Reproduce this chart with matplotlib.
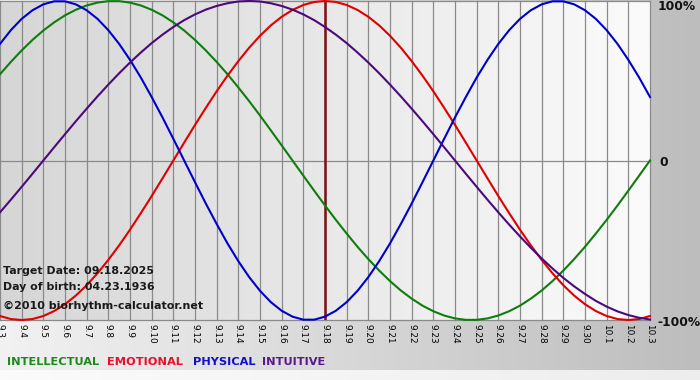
import matplotlib
matplotlib.use("Agg")
import matplotlib.pyplot as plt
import numpy as np

# dates on the x axis, 9.3 -> 10.3
dates = ["9.%d" % d for d in range(3, 31)] + ["10.1", "10.2", "10.3"]

# values every half day, 9.3 -> 10.3 (-1 .. 1)
physical = [0.731, 0.817, 0.888, 0.942, 0.979, 0.998, 0.998, 0.979, 0.942, 0.888,
            0.817, 0.731, 0.631, 0.520, 0.398, 0.270, 0.136, 0.000, -0.136, -0.270,
            -0.398, -0.520, -0.631, -0.731, -0.817, -0.888, -0.942, -0.979, -0.998, -0.998,
            -0.979, -0.942, -0.888, -0.817, -0.731, -0.631, -0.520, -0.398, -0.270, -0.136,
            0.000, 0.136, 0.270, 0.398, 0.520, 0.631, 0.731, 0.817, 0.888, 0.942,
            0.979, 0.998, 0.998, 0.979, 0.942, 0.888, 0.817, 0.731, 0.631, 0.520, 0.398]
emotional = [-0.975, -0.994, -1.000, -0.994, -0.975, -0.944, -0.901, -0.847, -0.782, -0.707,
             -0.623, -0.532, -0.434, -0.330, -0.223, -0.112, 0.000, 0.112, 0.223, 0.330,
             0.434, 0.532, 0.623, 0.707, 0.782, 0.847, 0.901, 0.944, 0.975, 0.994,
             1.000, 0.994, 0.975, 0.944, 0.901, 0.847, 0.782, 0.707, 0.623, 0.532,
             0.434, 0.330, 0.223, 0.112, 0.000, -0.112, -0.223, -0.330, -0.434, -0.532,
             -0.623, -0.707, -0.782, -0.847, -0.901, -0.944, -0.975, -0.994, -1.000, -0.994, -0.975]
intellectual = [0.541, 0.618, 0.690, 0.756, 0.815, 0.866, 0.910, 0.945, 0.972, 0.990,
                0.999, 0.999, 0.990, 0.972, 0.945, 0.910, 0.866, 0.815, 0.756, 0.690,
                0.618, 0.541, 0.458, 0.372, 0.282, 0.189, 0.095, 0.000, -0.095, -0.189,
                -0.282, -0.372, -0.458, -0.541, -0.618, -0.690, -0.756, -0.815, -0.866, -0.910,
                -0.945, -0.972, -0.990, -0.999, -0.999, -0.990, -0.972, -0.945, -0.910, -0.866,
                -0.815, -0.756, -0.690, -0.618, -0.541, -0.458, -0.372, -0.282, -0.189, -0.095, 0.000]
intuitive = [-0.325, -0.246, -0.165, -0.083, 0.000, 0.083, 0.165, 0.246, 0.325, 0.402,
             0.476, 0.547, 0.614, 0.677, 0.736, 0.789, 0.837, 0.880, 0.916, 0.946,
             0.969, 0.986, 0.997, 1.000, 0.997, 0.986, 0.969, 0.946, 0.916, 0.880,
             0.837, 0.789, 0.736, 0.677, 0.614, 0.547, 0.476, 0.402, 0.325, 0.246,
             0.165, 0.083, 0.000, -0.083, -0.165, -0.246, -0.325, -0.402, -0.476, -0.547,
             -0.614, -0.677, -0.736, -0.789, -0.837, -0.880, -0.916, -0.946, -0.969, -0.986, -0.997]
target_date = "9.18"

W, H = 700, 380
fig = plt.figure(figsize=(7, 3.8), dpi=100)
cmap = matplotlib.colors.LinearSegmentedColormap.from_list

# figure background: light left -> grey right
grad = np.linspace(0, 1, 256).reshape(1, -1)
bg = fig.add_axes([0, 10 / H, 1, 370 / H], zorder=0)
bg.imshow(grad, aspect="auto", extent=[0, 1, 0, 1], cmap=cmap("b", ["#f2f2f2", "#bdbdbd"]))
bg.axis("off")
# pale strip at the very bottom
strip = fig.add_axes([0, 0, 1, 10 / H], zorder=0)
strip.imshow(grad, aspect="auto", extent=[0, 1, 0, 1], cmap=cmap("s", ["#fbfbfb", "#ededed"]))
strip.axis("off")

ax = fig.add_axes([0, 60 / H, 650 / W, 319 / H], zorder=1)
ax.imshow(grad, aspect="auto", extent=[0, 30, -1, 1], zorder=0,
          cmap=cmap("p", ["#d6d6d6", "#fbfbfb"]))
ax.set_xlim(0, 30)
ax.set_ylim(-1, 1)
for s in ax.spines.values():
    s.set_visible(False)

days = np.arange(len(dates))
for d in days:
    ax.axvline(d, color="#8a8a8a", lw=0.9, zorder=1, clip_on=False)
for yv in (-1, 0, 1):
    ax.axhline(yv, color="#8a8a8a", lw=0.9, zorder=1, clip_on=False)

ax.axvline(dates.index(target_date), color="#7a1010", lw=1.8, zorder=2)

xs = np.arange(len(physical)) / 2.0
ax.plot(xs, intellectual, color="#0e7d0e", lw=1.5, zorder=3, clip_on=False)
ax.plot(xs, emotional, color="#e00000", lw=1.5, zorder=3, clip_on=False)
ax.plot(xs, physical, color="#0000cc", lw=1.5, zorder=3, clip_on=False)
ax.plot(xs, intuitive, color="#4b0a7a", lw=1.5, zorder=3, clip_on=False)

ax.set_xticks(days)
ax.set_xticklabels(dates, rotation=-90, fontsize=6.4, color="#000000")
ax.tick_params(axis="x", length=0, pad=2.8)
ax.set_yticks([])

def ftext(px, py, s, **kw):
    fig.text(px / W, 1 - py / H, s, **kw)

ftext(658, 7, "100%", fontsize=8.8, fontweight="bold", va="center", color="#111111")
ftext(659, 162, "0", fontsize=8.8, fontweight="bold", va="center", color="#111111")
ftext(657, 322, "-100%", fontsize=8.8, fontweight="bold", va="center", color="#111111")

ftext(3, 271, "Target Date: 09.18.2025", fontsize=7.9, fontweight="bold", va="center", color="#1a1a1a", zorder=5)
ftext(3, 287, "Day of birth: 04.23.1936", fontsize=7.9, fontweight="bold", va="center", color="#1a1a1a", zorder=5)
ftext(3, 306, "\u00a92010 biorhythm-calculator.net", fontsize=8.0, fontweight="bold", va="center", color="#1a1a1a", zorder=5)

ftext(7, 362, "INTELLECTUAL", fontsize=8.2, fontweight="bold", va="center", color="#1e8a1e")
ftext(107, 362, "EMOTIONAL", fontsize=8.2, fontweight="bold", va="center", color="#e8102a")
ftext(193, 362, "PHYSICAL", fontsize=8.2, fontweight="bold", va="center", color="#1010cc")
ftext(262, 362, "INTUITIVE", fontsize=8.2, fontweight="bold", va="center", color="#5a1a8a")

fig.savefig("out.png", dpi=100)
